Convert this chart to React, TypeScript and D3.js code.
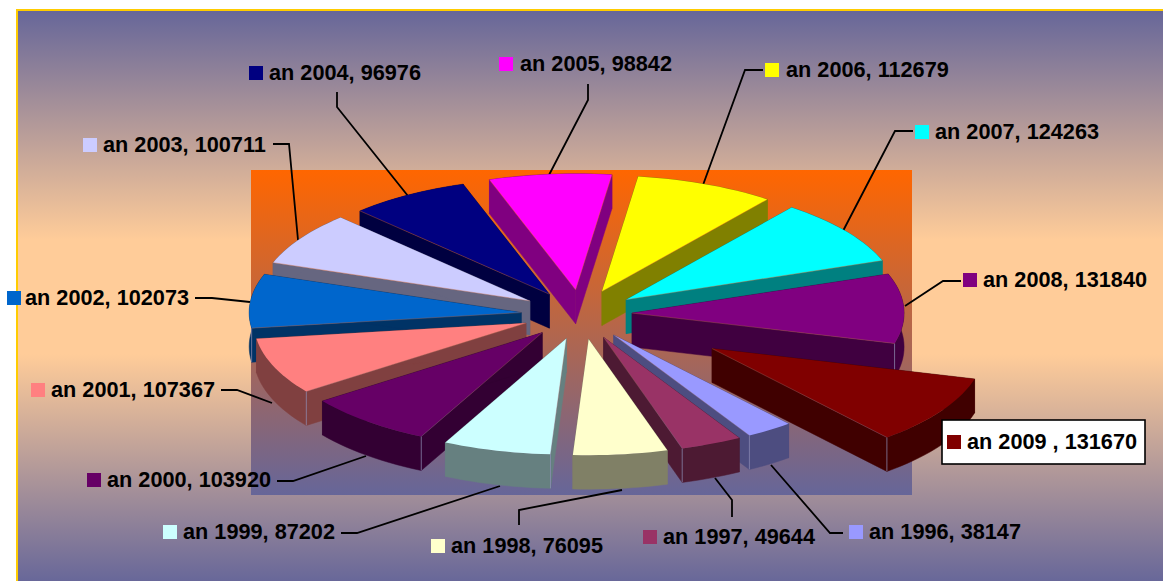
import React from "react";
import * as d3 from "d3";

const years = ["1996","1997","1998","1999","2000","2001","2002","2003","2004","2005","2006","2007","2008","2009"];
const values = [38147,49644,76095,87202,103920,107367,102073,100711,96976,98842,112679,124263,131840,131670];
const topColors = ["#9999FF","#993366","#FFFFCC","#CCFFFF","#660066","#FF8080","#0066CC","#CCCCFF","#000080","#FF00FF","#FFFF00","#00FFFF","#800080","#800000"];
const sideColors = ["#4D4D80","#4D1A33","#808066","#668080","#330033","#804040","#003366","#666680","#000040","#800080","#808000","#008080","#400040","#400000"];
const labelTexts = ["an 1996, 38147","an 1997, 49644","an 1998, 76095","an 1999, 87202","an 2000, 103920","an 2001, 107367","an 2002, 102073","an 2003, 100711","an 2004, 96976","an 2005, 98842","an 2006, 112679","an 2007, 124263","an 2008, 131840","an 2009 , 131670"];

// layout: swatch x, swatch y, text x, per slice
const labelLayout: [number, number, number][] = [
  [849,525,869],[643,530,663],[431,539,451],[163,525,183],[87,473,107],[31,383,51],[7,291,25],
  [83,138,103],[249,66,269],[499,57,520],[765,63,786],[915,125,935],[963,273,983],[947,435,967],
];
const leaders: [number,number][][] = [
  [[843,533],[830,533],[771,465]],
  [[732,517],[732,500],[715,478]],
  [[519,525],[519,510],[622,490]],
  [[341,533],[357,533],[500,486]],
  [[277,481],[293,481],[366,456]],
  [[221,390],[237,390],[272,403]],
  [[195,298],[212,298],[250,302]],
  [[273,144],[289,144],[298,240]],
  [[337,92],[337,107],[408,196]],
  [[588,84],[588,100],[549,175]],
  [[763,70],[745,70],[703,185]],
  [[913,131],[895,131],[843,231]],
  [[961,281],[943,281],[905,306]],
  [],
];
// small per-slice corrections of the exploded apex
const apexNudgeX = [3,3,4,3,1,1,0,0,1,3,2,2,-3,0];
const apexNudgeY = [1,1,1,1,0,0,1,0,1,0,0,0,0,-2];

const CX = 578, CY = 314, RX = 272, RY = 116, DEPTH = 34;
const EXPLODE = 0.21, EXPLODE_PULLED = 0.585, PULLED = "2009";
const FONT = "'Liberation Sans', Arial, sans-serif";

const rad = (d: number) => (d * Math.PI) / 180;
const line = d3.line<[number, number]>().x(d => d[0]).y(d => d[1]);
const path = (pts: [number, number][], close = true) => line(pts) + (close ? "Z" : "");
const down = (p: [number, number]): [number, number] => [p[0], p[1] + DEPTH];

const pie = d3.pie<number>().sort(null).startAngle(rad(140)).endAngle(rad(500));
const arcs = pie(values);

const slices = arcs.map((a, i) => {
  const mid = (a.startAngle + a.endAngle) / 2;
  const e = years[i] === PULLED ? EXPLODE_PULLED : EXPLODE;
  const ax = CX + e * RX * Math.sin(mid) + apexNudgeX[i];
  const ay = CY - e * RY * Math.cos(mid) + apexNudgeY[i];
  const apex: [number, number] = [ax, ay];
  const n = Math.max(6, Math.ceil((a.endAngle - a.startAngle) / rad(2)));
  const angle = d3.scaleLinear().domain([0, n]).range([a.startAngle, a.endAngle]);
  const rim = d3.range(n + 1).map(k => {
    const t = angle(k);
    return [ax + RX * Math.sin(t), ay - RY * Math.cos(t)] as [number, number];
  });
  const first = rim[0], last = rim[rim.length - 1];
  const sd = ((a.startAngle * 180) / Math.PI) % 360, ed = ((a.endAngle * 180) / Math.PI) % 360;
  const seams: [number, number][] = [];
  if (ed > 90 && ed < 180) seams.push(last);
  if (sd > 180 && sd < 270) seams.push(first);
  const hair: [number, number][] = [];
  if (ed > 0 && ed < 180) hair.push(last);
  if (sd > 180 && sd < 360) hair.push(first);
  return { i, mid, apex, rim, first, last, seams, hair };
});
const drawOrder = [...slices].sort((p, q) => Math.cos(q.mid) - Math.cos(p.mid));

export default function App() {
  return (
    <svg width={1163} height={581} style={{ position: "absolute", left: 0, top: 0, display: "block", background: "#fff" }}>
      <defs>
        <linearGradient id="bg" x1="0" y1="0" x2="0" y2="1">
          <stop offset="0" stopColor="#666699" />
          <stop offset="0.4" stopColor="#FFCC99" />
          <stop offset="0.6" stopColor="#FFCC99" />
          <stop offset="1" stopColor="#666699" />
        </linearGradient>
        <linearGradient id="plot" gradientUnits="userSpaceOnUse" x1="0" y1="170" x2="0" y2="495">
          <stop offset="0" stopColor="#FF6600" />
          <stop offset="1" stopColor="#666699" />
        </linearGradient>
      </defs>
      <rect x={17} y={10} width={1160} height={574} fill="url(#bg)" stroke="#FFCC00" strokeWidth={2} />
      <rect x={251} y={170} width={661} height={325} fill="url(#plot)" />

      {leaders.map((l, i) => l.length ? (
        <path key={i} d={path(l, false)} fill="none" stroke="#000" strokeWidth={1.8} />
      ) : null)}

      {drawOrder.map(s => {
        const side = sideColors[s.i];
        const sp = { fill: side, stroke: side, strokeWidth: 0.5 };
        return (
          <g key={s.i}>
            <path d={path([s.apex, s.first, down(s.first), down(s.apex)])} {...sp} />
            <path d={path([s.apex, s.last, down(s.last), down(s.apex)])} {...sp} />
            <path d={path([...s.rim, ...s.rim.map(down).reverse()])} {...sp} />
            {s.seams.map((p, k) => (
              <path key={k} d={path([p, down(p)], false)} stroke="#9090B8" strokeOpacity={0.7} strokeWidth={1} fill="none" />
            ))}
            <path d={path([s.apex, ...s.rim])} fill={topColors[s.i]} />
            {s.hair.map((p, k) => (
              <path key={k} d={path([s.apex, p], false)} stroke="url(#plot)" strokeOpacity={0.55} strokeWidth={0.7} fill="none" />
            ))}
          </g>
        );
      })}

      <rect x={942} y={420} width={203} height={44} fill="#fff" stroke="#000" strokeWidth={1.6} />
      {labelTexts.map((t, i) => {
        const [sx, sy, tx] = labelLayout[i];
        return (
          <g key={i}>
            <rect x={sx} y={sy} width={14} height={14} fill={topColors[i]} />
            <text x={tx} y={sy + 14} fontFamily={FONT} fontWeight="bold" fontSize={21.7} fill="#000">{t}</text>
          </g>
        );
      })}
    </svg>
  );
}
